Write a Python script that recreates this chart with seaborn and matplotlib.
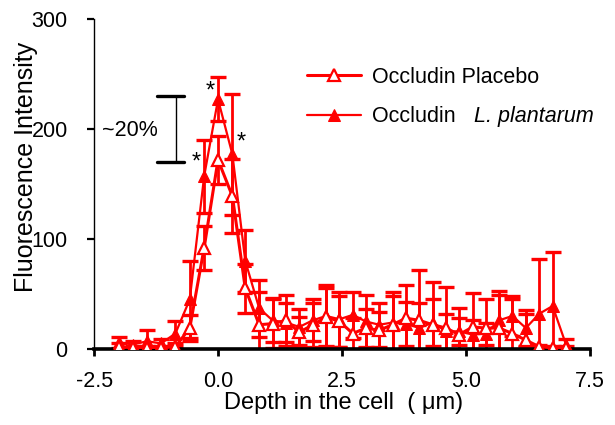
import matplotlib
matplotlib.use("Agg")
import matplotlib.pyplot as plt
import seaborn as sns
import pandas as pd

# depth positions (um) and intensities
depth = [-2.0, -1.72, -1.43, -1.15, -0.86, -0.57, -0.28, 0.0, 0.29, 0.55,
         0.83, 1.1, 1.37, 1.64, 1.91, 2.18, 2.45, 2.72, 2.98, 3.25,
         3.52, 3.79, 4.06, 4.33, 4.6, 4.86, 5.14, 5.4, 5.67, 5.94,
         6.21, 6.48, 6.75, 7.02]
placebo = [2, 1, 1, 1, 2, 19, 92, 172, 139, 55,
           22, 23, 26, 15, 22, 29, 25, 14, 19, 17,
           22, 28, 26, 22, 19, 13, 20, 19, 19, 14,
           8, 2, 1, 1]
placebo_err = [3, 2, 2, 2, 3, 12, 20, 22, 34, 22,
               30, 22, 23, 14, 20, 26, 23, 14, 17, 17,
               26, 30, 46, 39, 37, 24, 31, 26, 30, 31,
               24, 2, 2, 2]
plantarum = [6, 4, 7, 5, 14, 45, 157, 227, 177, 80,
             37, 26, 24, 20, 26, 30, 27, 31, 25, 22,
             24, 23, 19, 24, 16, 16, 13, 14, 26, 30,
             19, 32, 39, 4]
plantarum_err = [5, 3, 10, 4, 11, 35, 33, 20, 55, 28,
                 26, 20, 18, 16, 19, 28, 25, 21, 24, 20,
                 28, 20, 23, 21, 16, 12, 13, 10, 27, 18,
                 16, 50, 49, 5]

xticks = [-2.5, 0.0, 2.5, 5.0, 7.5]
yticks = [0, 100, 200, 300]

sns.set_theme(style="ticks")
plt.rcParams['font.family'] = ['Liberation Sans', 'DejaVu Sans']
plt.rcParams['text.color'] = 'black'

df_p = pd.DataFrame({"depth": depth, "value": placebo})
df_l = pd.DataFrame({"depth": depth, "value": plantarum})

fig, ax = plt.subplots(figsize=(6.15, 4.25), dpi=100)
fig.subplots_adjust(left=0.153, right=0.959, bottom=0.179, top=0.955)

red = "#ff0000"
ax.errorbar(depth, plantarum, yerr=plantarum_err, fmt="none", ecolor=red,
            elinewidth=2.0, capsize=6, capthick=2.4, zorder=2)
ax.errorbar(depth, placebo, yerr=placebo_err, fmt="none", ecolor=red,
            elinewidth=2.0, capsize=6, capthick=2.4, zorder=2)

sns.lineplot(data=df_l, x="depth", y="value", ax=ax, color=red, lw=1.6,
             marker="^", markersize=8.5, markerfacecolor=red,
             markeredgecolor=red, label="Occludin", errorbar=None, zorder=3)
sns.lineplot(data=df_p, x="depth", y="value", ax=ax, color=red, lw=2.2,
             marker="^", markersize=8.5, markerfacecolor="white",
             markeredgecolor=red, markeredgewidth=1.6,
             label="Occludin Placebo", errorbar=None, zorder=4)

ax.set_xlim(-2.5, 7.5)
ax.set_ylim(0, 300)
ax.set_xticks(xticks)
ax.set_xticklabels([f"{t:.1f}" for t in xticks])
ax.set_yticks(yticks)
sns.despine(ax=ax)
ax.spines['bottom'].set_linewidth(2.6)
ax.spines['left'].set_linewidth(1.0)
ax.spines['bottom'].set_color('black')
ax.spines['left'].set_color('black')
ax.tick_params(axis='x', direction='out', length=5, width=2, pad=11,
               labelsize=15.5, colors='black')
ax.tick_params(axis='y', direction='out', length=5, width=1.6, pad=14,
               labelsize=15.5, colors='black')

ax.set_xlabel("Depth in the cell  ( \u03bcm)", fontsize=17, color='black')
ax.set_ylabel("Fluorescence Intensity", fontsize=18, color='black')
ax.xaxis.set_label_coords(0.504, -0.132)
ax.yaxis.set_label_coords(-0.113, 0.553)

handles, labels = ax.get_legend_handles_labels()
order = [labels.index("Occludin Placebo"), labels.index("Occludin")]
ax.legend([handles[i] for i in order], [labels[i] for i in order],
          frameon=False, fontsize=15.5, loc="upper left",
          bbox_to_anchor=(0.43, 0.855), handlelength=2.5, handletextpad=0.5,
          labelspacing=0.85, borderpad=0, borderaxespad=0, labelcolor='black')
ax.text(0.766, 0.706, "L. plantarum", transform=ax.transAxes, fontsize=15.5,
        style="italic", va="center", ha="left", color='black')

# significance bracket and stars
ax.plot([-0.85, -0.85], [170, 230], color="black", lw=1.0)
ax.plot([-1.23, -0.69], [230, 230], color="black", lw=2.4)
ax.plot([-1.23, -0.69], [170, 170], color="black", lw=2.4)
ax.text(-1.77, 199, "~20%", fontsize=15.5, ha="center", va="center", color='black')
ax.text(-0.16, 234, "*", fontsize=17, ha="center", va="center", color='black')
ax.text(0.46, 188, "*", fontsize=17, ha="center", va="center", color='black')
ax.text(-0.44, 170, "*", fontsize=17, ha="center", va="center", color='black')

fig.savefig("out.png", dpi=100)
